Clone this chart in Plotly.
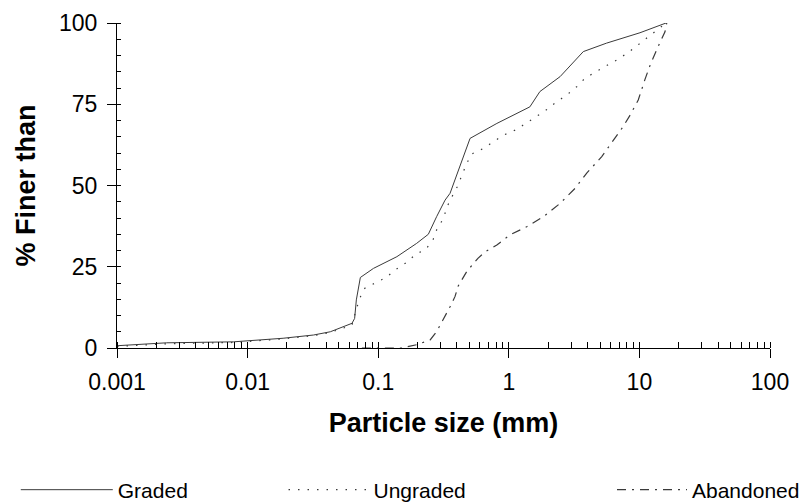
import plotly.graph_objects as go

graded_x = [0.001, 0.0024, 0.0078, 0.0187, 0.032, 0.043, 0.063, 0.066, 0.068, 0.073, 0.092, 0.139,
            0.197, 0.242, 0.28, 0.325, 0.355, 0.505, 0.81, 1.45, 1.73, 2.47, 3.72, 5.6, 10.1, 16.0]
graded_y = [0.7, 1.6, 1.9, 3.0, 4.0, 5.0, 7.6, 9.1, 14.8, 21.7, 24.5, 28.1,
            32.2, 35.0, 40.4, 45.5, 47.6, 64.5, 69.1, 74.2, 78.9, 83.5, 91.2, 93.8, 97.0, 100.0]

ungraded_x = [0.001, 0.0024, 0.0078, 0.0187, 0.032, 0.043, 0.063, 0.068, 0.075, 0.079, 0.096, 0.115,
              0.137, 0.163, 0.195, 0.232, 0.264, 0.28, 0.316, 0.337, 0.372, 0.403, 0.476, 0.52, 0.638,
              0.91, 1.13, 1.37, 1.9, 2.33, 2.77, 3.31, 3.83, 5.45, 6.7, 8.2, 11.4, 13.6, 16.0]
ungraded_y = [0.5, 1.3, 1.7, 2.8, 3.8, 4.8, 7.0, 12.0, 17.0, 18.4, 20.1, 21.7,
              24.2, 26.2, 28.9, 30.4, 33.5, 36.3, 39.9, 43.5, 47.0, 49.6, 56.8, 59.7, 61.4,
              65.5, 67.1, 69.3, 73.0, 75.8, 77.8, 80.4, 83.0, 86.6, 88.6, 90.9, 95.3, 97.6, 100.0]

abandoned_x = [0.075, 0.15, 0.197, 0.25, 0.28, 0.32, 0.355, 0.387, 0.41, 0.476, 0.58, 0.66, 0.81,
               1.02, 1.37, 1.84, 2.47, 3.21, 3.95, 5.15, 6.1, 7.5, 8.5, 9.8, 11.0, 12.1, 13.9, 15.7, 16.2]
abandoned_y = [0, 0, 1.0, 2.5, 5.0, 9.1, 12.7, 15.8, 19.1, 23.5, 27.6, 29.6, 31.7,
               34.8, 37.3, 40.4, 44.5, 49.1, 53.8, 58.9, 63.0, 68.1, 71.7, 76.3, 82.5, 87.1, 92.7, 97.3, 100.0]

x_tickvals = [0.001, 0.01, 0.1, 1, 10, 100]
x_ticktext = ["0.001", "0.01", "0.1", "1", "10", "100"]
y_tickvals = [0, 25, 50, 75, 100]

FONT = "Liberation Sans, Arial, sans-serif"
LINE = "#3a3a3a"

fig = go.Figure()
fig.add_trace(go.Scatter(x=graded_x, y=graded_y, mode="lines", name="Graded",
                         line=dict(color=LINE, width=1), legend="legend"))
fig.add_trace(go.Scatter(x=ungraded_x, y=ungraded_y, mode="lines", name="Ungraded",
                         line=dict(color=LINE, width=1.2, dash="1.5px,8px"), legend="legend2"))
fig.add_trace(go.Scatter(x=abandoned_x, y=abandoned_y, mode="lines", name="Abandoned",
                         line=dict(color=LINE, width=1.2, dash="9px,6px,2px,6px"), legend="legend3"))

def leg(x, w):
    return dict(orientation="h", yanchor="middle", y=-0.437, xanchor="left", x=x,
                font=dict(family=FONT, size=21, color="black"), itemwidth=w,
                bgcolor="rgba(0,0,0,0)", borderwidth=0)

fig.update_layout(
    width=803, height=503,
    margin=dict(l=117, r=33, t=23, b=155, autoexpand=False),
    paper_bgcolor="white", plot_bgcolor="white",
    font=dict(family=FONT, size=23, color="black"),
    showlegend=True,
    legend=leg(-0.155, 92),
    legend2=leg(0.255, 80),
    legend3=leg(0.758, 70),
    xaxis=dict(type="log", range=[-3, 2], tickvals=x_tickvals, ticktext=x_ticktext,
               showline=True, linecolor="black", linewidth=1, showgrid=False, zeroline=False,
               ticks="outside", ticklen=9, tickcolor="black", tickwidth=1,
               ticklabelstandoff=4,
               minor=dict(ticks="inside", ticklen=6, tickcolor="black", tickwidth=1,
                          dtick="D1", showgrid=False),
               tickfont=dict(family=FONT, size=23, color="black"),
               automargin=False,
               title=dict(text="<b>Particle size (mm)</b>", font=dict(family=FONT, size=27, color="black"),
                          standoff=19)),
    yaxis=dict(range=[0, 100], tickvals=y_tickvals,
               showline=True, linecolor="black", linewidth=1, showgrid=False, zeroline=False,
               ticks="outside", ticklen=9, tickcolor="black", tickwidth=1,
               ticklabelstandoff=5,
               minor=dict(ticks="inside", ticklen=4, tickcolor="black", tickwidth=1,
                          dtick=5, showgrid=False),
               tickfont=dict(family=FONT, size=23, color="black"),
               automargin=False,
               title=dict(text="<b>% Finer than</b>", font=dict(family=FONT, size=27, color="black"),
                          standoff=15)),
)

fig.write_html("out.html")
